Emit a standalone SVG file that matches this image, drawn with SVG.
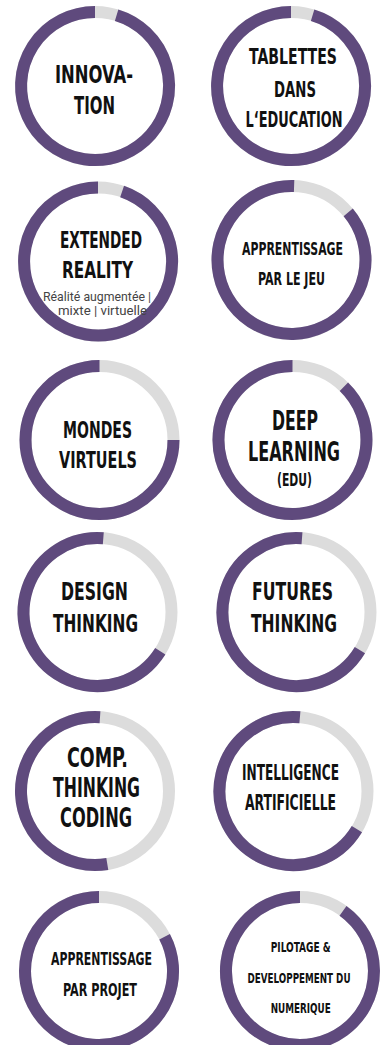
<svg xmlns="http://www.w3.org/2000/svg" width="390" height="1045" viewBox="0 0 390 1045">
<style>
.track{fill:none;stroke:#dcdcdc;stroke-width:12}
.bar{fill:none;stroke:#5f4a7d;stroke-width:12}
.t{font-family:"Liberation Sans Narrow","DejaVu Sans Condensed","Liberation Sans",sans-serif;font-weight:bold;fill:#111;text-anchor:middle}
.s{font-family:Roboto,"Liberation Sans",sans-serif;font-size:13px;fill:#444;text-anchor:middle}
</style>
<rect width="390" height="1045" fill="#fff"/>
<g id="innovation">
<circle class="track" cx="95" cy="86" r="74"/>
<path class="bar" d="M116.6 15.2 A74 74 0 1 1 95 12"/>
<text class="t" x="94" y="83" font-size="25" textLength="78" lengthAdjust="spacingAndGlyphs">INNOVA-</text>
<text class="t" x="94.5" y="114" font-size="25" textLength="41" lengthAdjust="spacingAndGlyphs">TION</text>
</g>
<g id="tablettes">
<circle class="track" cx="291" cy="86" r="74"/>
<path class="bar" d="M312.6 15.2 A74 74 0 1 1 291 12"/>
<text class="t" x="293" y="64" font-size="22" textLength="88" lengthAdjust="spacingAndGlyphs">TABLETTES</text>
<text class="t" x="295" y="97" font-size="22" textLength="42" lengthAdjust="spacingAndGlyphs">DANS</text>
<text class="t" x="294" y="127" font-size="22" textLength="97" lengthAdjust="spacingAndGlyphs">L‘EDUCATION</text>
</g>
<g id="extended-reality">
<circle class="track" cx="98" cy="261.5" r="74"/>
<path class="bar" d="M122.1 191.5 A74 74 0 1 1 98 187.5"/>
<text class="t" x="101" y="248" font-size="23.5" textLength="82" lengthAdjust="spacingAndGlyphs">EXTENDED</text>
<text class="t" x="97.5" y="278" font-size="23.5" textLength="71" lengthAdjust="spacingAndGlyphs">REALITY</text>
<text class="s" x="97" y="301" textLength="108" lengthAdjust="spacingAndGlyphs">Réalité augmentée |</text>
<text class="s" x="102.5" y="314.5" textLength="89" lengthAdjust="spacingAndGlyphs">mixte | virtuelle</text>
</g>
<g id="apprentissage-jeu">
<circle class="track" cx="291.5" cy="260" r="74"/>
<path class="bar" d="M348.2 212.4 A74 74 0 1 1 294.1 186"/>
<text class="t" x="292.5" y="255" font-size="17" textLength="101" lengthAdjust="spacingAndGlyphs">APPRENTISSAGE</text>
<text class="t" x="291.5" y="285" font-size="17" textLength="67" lengthAdjust="spacingAndGlyphs">PAR LE JEU</text>
</g>
<g id="mondes-virtuels">
<circle class="track" cx="99.5" cy="440" r="74"/>
<path class="bar" d="M173.5 440 A74 74 0 1 1 99.5 366"/>
<text class="t" x="97.5" y="438" font-size="23.5" textLength="69" lengthAdjust="spacingAndGlyphs">MONDES</text>
<text class="t" x="98" y="468" font-size="23.5" textLength="78" lengthAdjust="spacingAndGlyphs">VIRTUELS</text>
</g>
<g id="deep-learning">
<circle class="track" cx="292.5" cy="440" r="74"/>
<path class="bar" d="M343.9 386.8 A74 74 0 1 1 292.5 366"/>
<text class="t" x="295" y="430" font-size="26" textLength="46" lengthAdjust="spacingAndGlyphs">DEEP</text>
<text class="t" x="294" y="461" font-size="26" textLength="92" lengthAdjust="spacingAndGlyphs">LEARNING</text>
<text class="t" x="294.5" y="486" font-size="17" textLength="35" lengthAdjust="spacingAndGlyphs">(EDU)</text>
</g>
<g id="design-thinking">
<circle class="track" cx="97.5" cy="612" r="74"/>
<path class="bar" d="M160.3 651.2 A74 74 0 1 1 103.3 538.2"/>
<text class="t" x="94.5" y="600" font-size="25" textLength="67" lengthAdjust="spacingAndGlyphs">DESIGN</text>
<text class="t" x="95.5" y="632" font-size="25" textLength="85" lengthAdjust="spacingAndGlyphs">THINKING</text>
</g>
<g id="futures-thinking">
<circle class="track" cx="296.5" cy="612" r="74"/>
<path class="bar" d="M359.9 650.1 A74 74 0 1 1 302 538.2"/>
<text class="t" x="292.5" y="600" font-size="25" textLength="81" lengthAdjust="spacingAndGlyphs">FUTURES</text>
<text class="t" x="294" y="632" font-size="25" textLength="86" lengthAdjust="spacingAndGlyphs">THINKING</text>
</g>
<g id="comp-thinking">
<circle class="track" cx="95" cy="791" r="74"/>
<path class="bar" d="M107.3 864 A74 74 0 1 1 100 717.2"/>
<text class="t" x="97.5" y="767" font-size="26" textLength="61" lengthAdjust="spacingAndGlyphs">COMP.</text>
<text class="t" x="96.5" y="797" font-size="26" textLength="87" lengthAdjust="spacingAndGlyphs">THINKING</text>
<text class="t" x="96" y="827" font-size="26" textLength="72" lengthAdjust="spacingAndGlyphs">CODING</text>
</g>
<g id="intelligence-artificielle">
<circle class="track" cx="293.5" cy="791" r="74"/>
<path class="bar" d="M356.9 829.1 A74 74 0 1 1 299.9 717.3"/>
<text class="t" x="290.5" y="780" font-size="21" textLength="97" lengthAdjust="spacingAndGlyphs">INTELLIGENCE</text>
<text class="t" x="290.5" y="810" font-size="21" textLength="91" lengthAdjust="spacingAndGlyphs">ARTIFICIELLE</text>
</g>
<g id="apprentissage-projet">
<circle class="track" cx="99" cy="971" r="74"/>
<path class="bar" d="M164.6 936.7 A74 74 0 1 1 99 897"/>
<text class="t" x="101.5" y="965" font-size="17.5" textLength="101" lengthAdjust="spacingAndGlyphs">APPRENTISSAGE</text>
<text class="t" x="100" y="996" font-size="17.5" textLength="74" lengthAdjust="spacingAndGlyphs">PAR PROJET</text>
</g>
<g id="pilotage">
<circle class="track" cx="300" cy="971" r="74"/>
<path class="bar" d="M343 910.8 A74 74 0 1 1 300 897"/>
<text class="t" x="300.7" y="952" font-size="14" textLength="60" lengthAdjust="spacingAndGlyphs">PILOTAGE &amp;</text>
<text class="t" x="299" y="983" font-size="14" textLength="103" lengthAdjust="spacingAndGlyphs">DEVELOPPEMENT DU</text>
<text class="t" x="300.7" y="1013" font-size="14" textLength="60" lengthAdjust="spacingAndGlyphs">NUMERIQUE</text>
</g>
</svg>
